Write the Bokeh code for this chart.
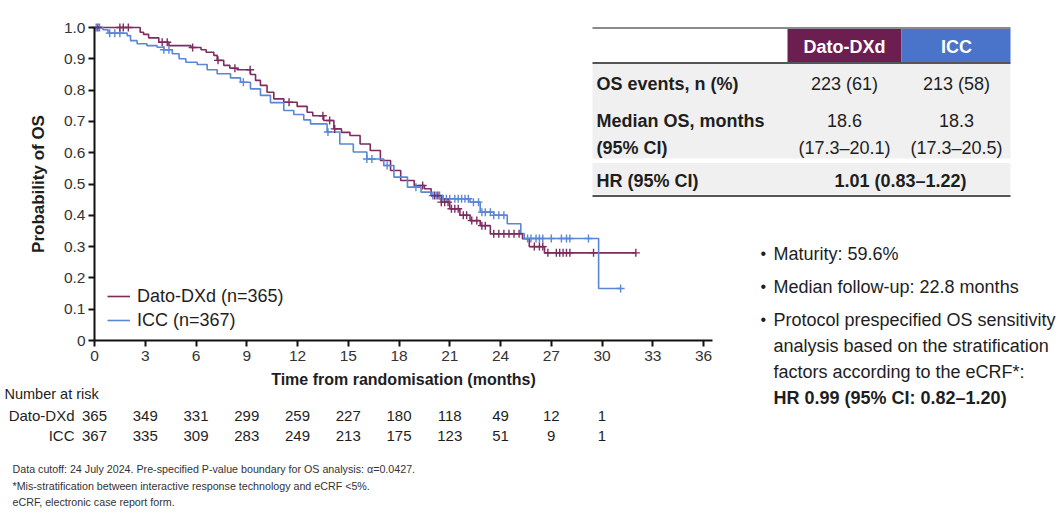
import numpy as np
from bokeh.plotting import figure
from bokeh.models import (Range1d, FixedTicker, Legend, LegendItem, Label, BoxAnnotation,
                          LinearAxis)
from bokeh.embed import file_html
from bokeh.resources import INLINE

# ---------------- data ----------------
dato_time = [0, 2.7, 2.9, 3.2, 3.8, 4.4, 5.7, 6.3, 6.6, 7.05, 7.25, 7.64, 8.0, 8.43, 9.22, 9.52,
             9.81, 10.2, 10.6, 11.19, 11.98, 12.57, 12.9, 13.55, 14.15, 14.6, 15.1, 15.7, 16.3,
             16.9, 17.5, 18.1, 18.9, 19.5, 19.9, 20.5, 21.0, 21.6, 22.2, 22.8, 23.4, 25.3, 25.7,
             26.6, 32.0]
dato_surv = [1.0, 0.985, 0.978, 0.967, 0.953, 0.942, 0.936, 0.929, 0.921, 0.911, 0.895, 0.879,
             0.870, 0.865, 0.850, 0.831, 0.815, 0.793, 0.772, 0.761, 0.748, 0.729, 0.718, 0.703,
             0.676, 0.665, 0.655, 0.628, 0.607, 0.575, 0.543, 0.511, 0.495, 0.485, 0.463, 0.442,
             0.421, 0.400, 0.383, 0.367, 0.341, 0.325, 0.300, 0.280, 0.280]
icc_time = [0, 0.5, 0.8, 1.93, 2.13, 2.52, 3.1, 3.7, 4.1, 4.6, 5.0, 5.4, 6.07, 6.66, 7.25, 8.04,
            8.63, 9.22, 9.81, 10.4, 11.19, 11.78, 12.37, 12.77, 13.75, 14.5, 15.3, 16.1, 17.1,
            17.7, 18.5, 19.3, 19.9, 20.6, 22.2, 22.8, 23.6, 24.4, 25.2, 25.4, 29.8, 31.1]
icc_surv = [1.0, 0.993, 0.982, 0.974, 0.958, 0.948, 0.942, 0.937, 0.929, 0.916, 0.900, 0.889,
            0.882, 0.865, 0.852, 0.839, 0.825, 0.804, 0.783, 0.760, 0.735, 0.722, 0.705, 0.692,
            0.666, 0.628, 0.602, 0.580, 0.559, 0.522, 0.490, 0.474, 0.463, 0.453, 0.442, 0.410,
            0.400, 0.373, 0.342, 0.326, 0.166, 0.166]
dato_censor = [0.2, 1.5, 1.7, 2.0, 4.0, 4.3, 5.8, 7.3, 8.3, 9.2, 11.5, 13.5, 13.9, 14.2, 19.4,
               20.1, 20.3, 20.5, 20.7, 20.9, 21.1, 21.3, 21.5, 21.8, 22.0, 22.3, 22.6, 22.9, 23.1,
               23.6, 23.9, 24.2, 24.5, 24.8, 25.1, 26.0, 26.3, 26.5, 26.8, 27.3, 27.5, 27.7, 27.9,
               28.1, 29.5, 32.0]
icc_censor = [0.1, 0.3, 0.9, 1.2, 1.5, 4.1, 4.4, 8.8, 13.8, 16.1, 16.4, 17.3, 19.0, 20.0, 20.2,
              20.4, 20.6, 20.8, 21.0, 21.3, 21.5, 21.7, 21.9, 22.1, 22.4, 22.7, 22.9, 23.1, 23.4,
              23.6, 23.9, 24.2, 25.6, 25.8, 26.1, 26.3, 26.5, 27.0, 27.6, 27.9, 28.1, 29.2, 31.1]

x_ticks = [0, 3, 6, 9, 12, 15, 18, 21, 24, 27, 30, 33, 36]
y_ticks = [0, 0.1, 0.2, 0.3, 0.4, 0.5, 0.6, 0.7, 0.8, 0.9, 1.0]
y_tick_labels = ["0", "0.1", "0.2", "0.3", "0.4", "0.5", "0.6", "0.7", "0.8", "0.9", "1.0"]
risk_times = [0, 3, 6, 9, 12, 15, 18, 21, 24, 27, 30]
dato_risk = [365, 349, 331, 299, 259, 227, 180, 118, 49, 12, 1]
icc_risk = [367, 335, 309, 283, 249, 213, 175, 123, 51, 9, 1]
arm_names = ["Dato-DXd", "ICC"]
legend_labels = ["Dato-DXd (n=365)", "ICC (n=367)"]
table_rows = ["OS events, n (%)", "Median OS, months", "(95% CI)", "HR (95% CI)"]
os_events = ["223 (61)", "213 (58)"]
median_os = ["18.6", "18.3"]
median_ci = ["(17.3\u201320.1)", "(17.3\u201320.5)"]
hr_text = "1.01 (0.83\u20131.22)"
bullets = ["Maturity: 59.6%", "Median follow-up: 22.8 months",
           "Protocol prespecified OS sensitivity", "analysis based on the stratification",
           "factors according to the eCRF*:"]
bullet_bold = "HR 0.99 (95% CI: 0.82\u20131.20)"
footnotes = ["Data cutoff: 24 July 2024. Pre-specified P-value boundary for OS analysis: \u03b1=0.0427.",
             "*Mis-stratification between interactive response technology and eCRF <5%.",
             "eCRF, electronic case report form."]

# ---------------- style ----------------
FONT = "Liberation Sans"
DATO = "#7e2b5f"
ICC = "#5a86d6"
DATO_HDR = "#6c1e50"
ICC_HDR = "#4a74c9"
TXT = "#1e1e1e"

# picture-pixel -> data helpers (layout only)
X0, PXM = 94.0, 609.0 / 36.0
Y0, PYU = 340.0, 313.0
def dx(px):
    return (px - X0) / PXM
def dy(py):
    return (Y0 - py) / PYU

W, H = 1064, 521
p = figure(width=W, height=H, output_backend="svg", toolbar_location=None,
           x_range=Range1d(dx(0), dx(W)), y_range=Range1d(dy(H), dy(0)),
           x_axis_location=None, y_axis_location=None,
           min_border_left=0, min_border_right=0, min_border_top=0, min_border_bottom=0)
p.outline_line_color = None
p.grid.visible = False
p.background_fill_color = "white"

xaxis = LinearAxis(fixed_location=0, bounds=(0, dx(712)))
yaxis = LinearAxis(fixed_location=0, bounds=(0, 1.0))
p.add_layout(xaxis, "below")
p.add_layout(yaxis, "left")

for ax in (xaxis, yaxis):
    ax.axis_line_color = "#111111"
    ax.axis_line_width = 2
    ax.major_tick_line_color = "#111111"
    ax.major_tick_line_width = 2
    ax.major_tick_in = 0
    ax.major_tick_out = 6
    ax.minor_tick_line_color = None
    ax.major_label_text_font = FONT
    ax.major_label_text_font_size = "15.5px"
    ax.major_label_text_color = "#333333"
    ax.axis_label_text_font = FONT
    ax.axis_label_text_font_style = "bold"
    ax.axis_label_text_color = TXT

xaxis.axis_label_text_font_size = "16px"
yaxis.axis_label_text_font_size = "17px"
xaxis.ticker = FixedTicker(ticks=x_ticks)
yaxis.ticker = FixedTicker(ticks=y_ticks)
yaxis.major_label_overrides = dict(zip(y_ticks, y_tick_labels))
xaxis.axis_label = "Time from randomisation (months)"
yaxis.axis_label = "Probability of OS"
xaxis.major_label_standoff = 4
xaxis.axis_label_standoff = 7
yaxis.major_label_standoff = 3
yaxis.axis_label_standoff = 13

# ---------------- curves ----------------
def step_lookup(times, surv, t):
    idx = np.searchsorted(np.asarray(times), np.asarray(t), side="right") - 1
    return np.asarray(surv)[idx]

r_d = p.step(dato_time, dato_surv, mode="after", line_color=DATO, line_width=1.6)
r_i = p.step(icc_time, icc_surv, mode="after", line_color=ICC, line_width=1.6)
p.scatter(icc_censor, step_lookup(icc_time, icc_surv, icc_censor), marker="cross", size=8,
          line_color=ICC, line_width=1.4)
p.scatter(dato_censor, step_lookup(dato_time, dato_surv, dato_censor), marker="cross", size=8,
          line_color=DATO, line_width=1.4)

legend = Legend(items=[LegendItem(label=legend_labels[0], renderers=[r_d]),
                       LegendItem(label=legend_labels[1], renderers=[r_i])],
                location=(107, H - 332), border_line_color=None,
                background_fill_alpha=0,
                label_text_font=FONT, label_text_font_size="18px", label_text_color=TXT,
                glyph_width=23, glyph_height=20, label_height=24, spacing=0, padding=0,
                margin=0, label_standoff=7)
p.add_layout(legend)

# ---------------- texts ----------------
def lab(x, y, text, size="15px", align="left", bold=False, color=TXT):
    p.add_layout(Label(x=x, y=y, text=text, text_font=FONT,
                       text_font_size=size, text_align=align, text_baseline="middle",
                       text_color=color, text_font_style="bold" if bold else "normal"))

# risk table
lab(dx(4), dy(393), "Number at risk", size="14.5px")
lab(dx(74), dy(415), arm_names[0], size="15px", align="right")
lab(dx(74), dy(435), arm_names[1], size="15px", align="right")
for t, a, b in zip(risk_times, dato_risk, icc_risk):
    lab(t, dy(415), str(a), size="15px", align="center")
    lab(t, dy(435), str(b), size="15px", align="center")

for f, yy in zip(footnotes, [468, 485, 501]):
    lab(dx(12), dy(yy), f, size="10.7px", color="#333333")

# summary table
TL, TR, XM = 592, 1010, 901
def box(l, r, t, b, color):
    p.add_layout(BoxAnnotation(left=dx(l), right=dx(r), top=dy(t), bottom=dy(b),
                               fill_color=color, fill_alpha=1, line_color=None))

box(TL, TR, 63, 158, "#f0f0f0")
box(TL, TR, 162.5, 194, "#f0f0f0")
box(787, XM, 28, 62, DATO_HDR)
box(XM, TR, 28, 62, ICC_HDR)
box(TL, TR, 26.5, 28.5, "#8a8a8a")
box(TL, TR, 61.5, 63.5, "#555555")
box(TL, TR, 194.5, 196.5, "#555555")

lab(dx(844), dy(46), arm_names[0], size="18px", align="center", bold=True, color="white")
lab(dx(956), dy(46), arm_names[1], size="18px", align="center", bold=True, color="white")
for row, yy in zip(table_rows, [83, 120, 147, 180]):
    lab(dx(596), dy(yy), row, size="18px", bold=True)
lab(dx(844), dy(83), os_events[0], size="18px", align="center")
lab(dx(956), dy(83), os_events[1], size="18px", align="center")
lab(dx(844), dy(120), median_os[0], size="18px", align="center")
lab(dx(956), dy(120), median_os[1], size="18px", align="center")
lab(dx(844), dy(147), median_ci[0], size="18px", align="center")
lab(dx(956), dy(147), median_ci[1], size="18px", align="center")
lab(dx(900), dy(180), hr_text, size="18px", align="center", bold=True)

# bullets
for yy in [253, 286, 319]:
    lab(dx(760), dy(yy), "\u2022", size="16px")
for b, yy in zip(bullets, [253, 286, 319, 345, 371]):
    lab(dx(773), dy(yy), b, size="18px")
lab(dx(773), dy(397), bullet_bold, size="18px", bold=True)

open("out.html", "w").write(file_html(p, INLINE))
